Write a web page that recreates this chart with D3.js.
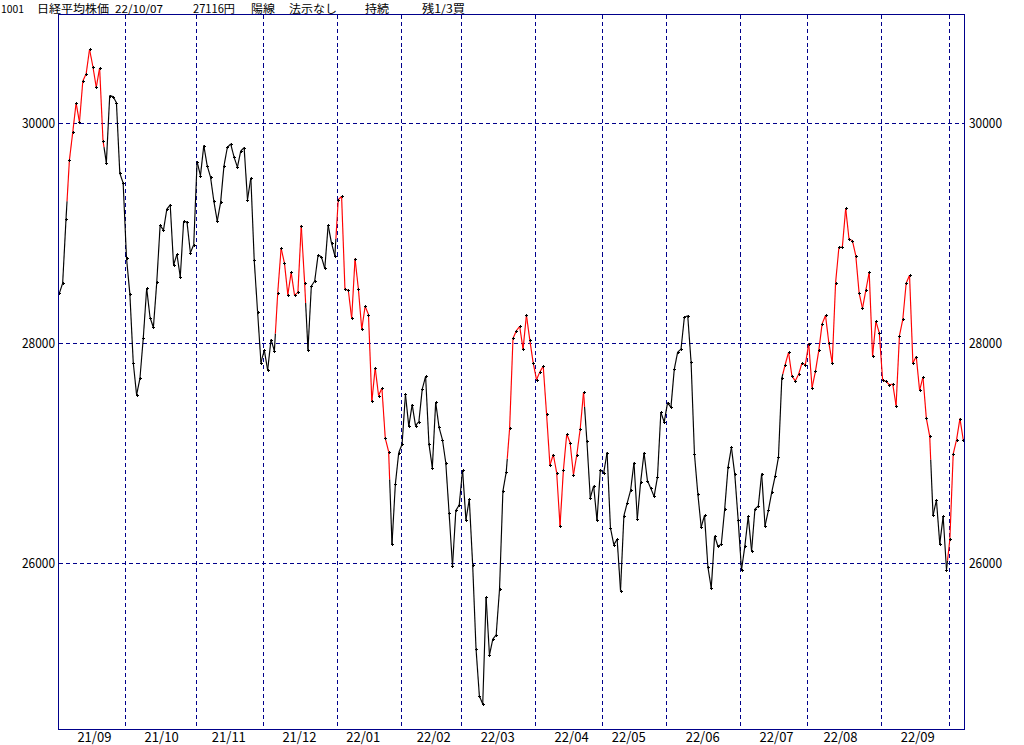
<!DOCTYPE html>
<html>
<head>
<meta charset="utf-8">
<script src="https://cdn.jsdelivr.net/npm/d3@7"></script>
<style>
  html, body { margin: 0; padding: 0; background: #fff; }
  svg { display: block; }
  text { font-family: "Noto Sans CJK JP", "DejaVu Sans", sans-serif; fill: #000; }
</style>
</head>
<body>
<script>
// ---- data (Nikkei 225 daily closes, 2021/09/01 - 2022/10/07) ----
const closes = [
  // 21/09
  28451, 28543, 29128, 29660, 29916, 30181, 30008, 30382, 30448, 30670, 30511, 30323, 30500, 29840, 29639, 30249, 30240, 30184, 29544, 29453,
  // 21/10
  28771, 28444, 27822, 27528, 27679, 28049, 28498, 28231, 28141, 28551, 29069, 29026, 29216, 29256, 28709, 28805, 28600, 29107, 29099, 28820, 28893,
  // 21/11
  29648, 29521, 29795, 29612, 29508, 29286, 29107, 29278, 29610, 29777, 29809, 29689, 29599, 29746, 29775, 29303, 29500, 28752, 28284, 27822,
  // 21/12
  27935, 27753, 28030, 27928, 28456, 28861, 28726, 28438, 28641, 28433, 28460, 29067, 28546, 27938, 28518, 28563, 28799, 28783, 28677, 29070, 28907, 28792,
  // 22/01
  29302, 29333, 28488, 28479, 28223, 28766, 28490, 28124, 28334, 28258, 27468, 27773, 27522, 27589, 27132, 27012, 26170, 26717, 27002,
  // 22/02
  27079, 27534, 27242, 27440, 27249, 27285, 27580, 27697, 27080, 26866, 27461, 27233, 27122, 26911, 26450, 25971, 26477, 26527,
  // 22/03
  26845, 26393, 26578, 25985, 25221, 24791, 24718, 25691, 25163, 25308, 25347, 25763, 26653, 26828, 27225, 28041, 28111, 28150, 27944, 28253, 28028, 27821,
  // 22/04
  27666, 27737, 27788, 27350, 26889, 26986, 26822, 26335, 26844, 27173, 27093, 26800, 26986, 27218, 27553, 27106, 26591, 26701, 26387, 26848,
  // 22/05
  26819, 27004, 26319, 26167, 26214, 25749, 26428, 26547, 26660, 26911, 26403, 26739, 27002, 26749, 26678, 26605, 26782, 27370, 27280,
  // 22/06
  27458, 27414, 27762, 27916, 27944, 28234, 28247, 27824, 26988, 26630, 26327, 26432, 25963, 25772, 26246, 26150, 26172, 26491, 26872, 27050, 26805, 26394,
  // 22/07
  25936, 26153, 26423, 26108, 26491, 26517, 26812, 26337, 26479, 26643, 26788, 26962, 27681, 27804, 27915, 27700, 27655, 27716, 27816, 27802,
  // 22/08
  27994, 27595, 27742, 27933, 28176, 28250, 27999, 27819, 28547, 28872, 28869, 29223, 28943, 28931, 28795, 28453, 28314, 28480, 28642, 27879, 28196, 28092,
  // 22/09
  27661, 27651, 27620, 27627, 27431, 28066, 28215, 28543, 28615, 27819, 27876, 27568, 27689, 27314, 27154, 26432, 26572, 26174, 26423, 25938,
  // 22/10
  26216, 26992, 27121, 27312, 27116
];
// trading days per month and month labels
const monthLabels = ["21/09","21/10","21/11","21/12","22/01","22/02","22/03","22/04","22/05","22/06","22/07","22/08","22/09","22/10"];
const monthDays   = [20, 21, 20, 22, 19, 18, 22, 20, 19, 22, 20, 22, 20, 5];
// trading-day position (within month) of the mid-month label
const labelDay    = [10, 10, 9, 10, 7, 9, 10, 10, 7, 10, 10, 9, 10, null];
// index ranges (inclusive) where the signal line is red ("陽線")
const redRanges = [[3, 13], [65, 73], [83, 98], [134, 156], [216, 259], [265, 269]];
const yTicks = [26000, 28000, 30000];
const headerItems = [
  {t: "1001", x: 1, w: 23},
  {t: "日経平均株価", x: 37, w: 72},
  {t: "22/10/07", x: 115, w: 48},
  {t: "27116円", x: 193, w: 42},
  {t: "陽線", x: 251, w: 24},
  {t: "法示なし", x: 289, w: 48},
  {t: "持続", x: 365, w: 24},
  {t: "残1/3買", x: 422, w: 43}
];

// ---- layout ----
const W = 1024, H = 745;
const L = 58.5, R = 964.5, T = 14.5, B = 729.5;
const NAVY = "#00008b";

const svg = d3.select("body").append("svg").attr("width", W).attr("height", H);
svg.append("rect").attr("width", W).attr("height", H).attr("fill", "#fff");

const x = d3.scaleLinear().domain([0, closes.length - 1]).range([59.3, 963.3]);
const y = d3.scaleLinear().domain([24486, 30986]).range([B, T]);

const isRed = i => redRanges.some(r => i >= r[0] && i <= r[1]);

// month start indices
const monthStart = [];
let acc = 0;
monthDays.forEach(d => { monthStart.push(acc); acc += d; });

// grid
const grid = svg.append("g").attr("stroke", NAVY).attr("stroke-width", 1)
  .attr("stroke-dasharray", "4,3").attr("shape-rendering", "crispEdges");
monthStart.slice(1).forEach(s => {
  const gx = Math.round(x(s - 0.4)) + 0.5;
  grid.append("line").attr("x1", gx).attr("x2", gx).attr("y1", T).attr("y2", B);
});
yTicks.forEach(v => {
  const gy = Math.round(y(v)) + 0.5;
  grid.append("line").attr("x1", L).attr("x2", R).attr("y1", gy).attr("y2", gy);
});

// line segments, coloured by signal state
const line = d3.line().x(d => x(d.i)).y(d => y(d.v));
const lg = svg.append("g").attr("fill", "none").attr("stroke-width", 1.15);
for (let i = 0; i < closes.length - 1; i++) {
  const a = {i: i, v: closes[i]}, b = {i: i + 1, v: closes[i + 1]};
  const ca = isRed(i) ? "#ff0000" : "#000000";
  const cb = isRed(i + 1) ? "#ff0000" : "#000000";
  if (ca === cb) {
    lg.append("path").attr("d", line([a, b])).attr("stroke", cb);
  } else {
    const f = 0.3;
    const m = {i: a.i + f, v: a.v + (b.v - a.v) * f};
    lg.append("path").attr("d", line([a, m])).attr("stroke", ca);
    lg.append("path").attr("d", line([m, b])).attr("stroke", cb);
  }
}

// markers (+)
const mk = svg.append("g").attr("stroke", "#000").attr("stroke-width", 1).attr("shape-rendering", "crispEdges");
closes.forEach((v, i) => {
  const px = Math.round(x(i)) + 0.5, py = Math.round(y(v)) + 0.5;
  mk.append("path").attr("d", `M${px - 1.5},${py}H${px + 1.5}M${px},${py - 1.5}V${py + 1.5}`);
});

// frame
svg.append("rect").attr("x", L).attr("y", T).attr("width", R - L).attr("height", B - T)
  .attr("fill", "none").attr("stroke", NAVY).attr("stroke-width", 1).attr("shape-rendering", "crispEdges");

// y labels (both sides)
yTicks.forEach(v => {
  const by = y(v) + 5.5;
  svg.append("text").attr("x", 55).attr("y", by).attr("text-anchor", "end")
    .attr("font-size", 13.5).attr("textLength", 33).attr("lengthAdjust", "spacingAndGlyphs").text(v);
  svg.append("text").attr("x", 969).attr("y", by)
    .attr("font-size", 13.5).attr("textLength", 33).attr("lengthAdjust", "spacingAndGlyphs").text(v);
});

// month labels
monthLabels.forEach((lab, k) => {
  if (labelDay[k] === null) return;
  const cx = x(monthStart[k] + labelDay[k]) + 1.5;
  svg.append("text").attr("x", cx - 17).attr("y", 742)
    .attr("font-size", 13.5).attr("textLength", 34).attr("lengthAdjust", "spacingAndGlyphs").text(lab);
});

// header
headerItems.forEach(h => {
  svg.append("text").attr("x", h.x).attr("y", 13).attr("font-size", 11.2)
    .attr("textLength", h.w).attr("lengthAdjust", "spacingAndGlyphs").text(h.t);
});
</script>
</body>
</html>
